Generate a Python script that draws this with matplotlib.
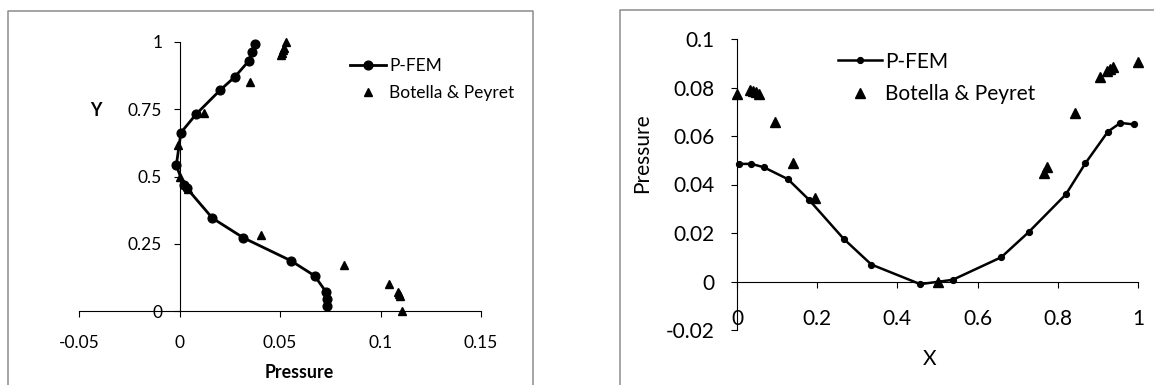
import matplotlib.pyplot as plt
from matplotlib.lines import Line2D

plt.rcParams['font.family'] = ['Lato', 'DejaVu Sans']

# vertical centreline: pressure against Y
pfem_left_p = [0.0375, 0.0360, 0.0344, 0.0275, 0.0202, 0.0083, 0.0007, -0.0016, 0.0021, 0.0037,
               0.0164, 0.0318, 0.0554, 0.0672, 0.0729, 0.0732, 0.0735]
pfem_left_y = [0.991, 0.962, 0.929, 0.870, 0.821, 0.732, 0.663, 0.541, 0.468, 0.456,
               0.345, 0.272, 0.187, 0.131, 0.071, 0.043, 0.017]
bp_left_y = [1.0, 0.9766, 0.9688, 0.9609, 0.9531, 0.8516, 0.7344, 0.6172, 0.5, 0.4531,
             0.2813, 0.1719, 0.1016, 0.0703, 0.0625, 0.0547, 0.0]
bp_left_p = [0.0530, 0.0520, 0.0515, 0.0509, 0.0503, 0.0349, 0.0121, -0.0008, 0.0, 0.0044,
             0.0404, 0.0819, 0.1042, 0.1086, 0.1092, 0.1097, 0.1106]

# horizontal centreline: pressure against X
pfem_right_x = [0.005, 0.036, 0.067, 0.127, 0.179, 0.266, 0.335, 0.457, 0.538, 0.659,
                0.727, 0.820, 0.869, 0.925, 0.956, 0.989]
pfem_right_p = [0.0485, 0.0485, 0.0471, 0.0422, 0.0338, 0.0176, 0.0070, -0.0011, 0.0007, 0.0100,
                0.0203, 0.0359, 0.0488, 0.0618, 0.0654, 0.0648]
bp_right_x = [0.0, 0.0312, 0.0391, 0.0469, 0.0547, 0.0937, 0.1406, 0.1953, 0.5, 0.7656,
              0.7734, 0.8437, 0.9062, 0.9219, 0.9297, 0.9375, 1.0]
bp_right_p = [0.0775, 0.0788, 0.0787, 0.0781, 0.0772, 0.0658, 0.0490, 0.0346, 0.0, 0.0448,
              0.0473, 0.0695, 0.0844, 0.0867, 0.0877, 0.0884, 0.0905]

left_xticks = [-0.05, 0, 0.05, 0.1, 0.15]
left_xlabels = ['-0.05', '0', '0.05', '0.1', '0.15']
left_yticks = [0, 0.25, 0.5, 0.75, 1]
left_ylabels = ['0', '0.25', '0.5', '0.75', '1']
right_xticks = [0, 0.2, 0.4, 0.6, 0.8, 1]
right_xlabels = ['0', '0.2', '0.4', '0.6', '0.8', '1']
right_yticks = [-0.02, 0, 0.02, 0.04, 0.06, 0.08, 0.1]
right_ylabels = ['-0.02', '0', '0.02', '0.04', '0.06', '0.08', '0.1']

W, H = 1154, 385
fig = plt.figure(figsize=(W / 100, H / 100), dpi=100)

def fx(px):
    return px / W

def fy(py):
    return 1 - py / H

# chart frames (bottom / right edges fall outside the picture)
frame = dict(color='#8c8c8c', lw=1.1, transform=fig.transFigure)
fig.add_artist(Line2D([fx(8), fx(8), fx(533), fx(533)], [-0.1, fy(11), fy(11), -0.1], **frame))
fig.add_artist(Line2D([fx(620), fx(620), 1.1], [-0.1, fy(10), fy(10)], **frame))

# ---- left chart ----
ax1 = fig.add_axes([fx(79), fy(311), (481 - 79) / W, (311 - 42) / H])
ax1.plot(pfem_left_p, pfem_left_y, '-o', color='black', lw=2.0, ms=6.3, label='P-FEM', clip_on=False)
ax1.plot(bp_left_p, bp_left_y, '^', color='black', ms=6.3, label='Botella & Peyret', clip_on=False)
ax1.set_xlim(-0.05, 0.15)
ax1.set_ylim(0, 1)
ax1.spines['left'].set_position(('data', 0))
ax1.spines['top'].set_visible(False)
ax1.spines['right'].set_visible(False)
for s in ('left', 'bottom'):
    ax1.spines[s].set_linewidth(0.8)
ax1.set_xticks(left_xticks, left_xlabels)
ax1.set_yticks(left_yticks, left_ylabels)
ax1.tick_params(axis='x', length=4, width=0.8, pad=13.5, labelsize=12.5)
ax1.tick_params(axis='y', length=4, width=0.8, pad=8.5, labelsize=12.5)
ax1.patch.set_visible(False)
ax1.legend(loc='center left', bbox_to_anchor=(fx(350), fy(79.5)), bbox_transform=fig.transFigure,
           frameon=False, fontsize=12.5, handlelength=2.1, handletextpad=0.15, borderpad=0,
           borderaxespad=0, labelspacing=0.62, numpoints=1)
fig.text(fx(299), fy(373), 'Pressure', ha='center', va='center', fontsize=12.8, fontweight='bold')
fig.text(fx(96), fy(110), 'Y', ha='center', va='center', fontsize=12.8, fontweight='bold')

# ---- right chart ----
ax2 = fig.add_axes([fx(737), fy(330), (1138 - 737) / W, (330 - 39) / H])
ax2.plot(pfem_right_x, pfem_right_p, '-o', color='black', lw=1.8, ms=4.2, label='P-FEM', clip_on=False)
ax2.plot(bp_right_x, bp_right_p, '^', color='black', ms=6.5, label='Botella & Peyret', clip_on=False)
ax2.set_xlim(0, 1)
ax2.set_ylim(-0.02, 0.1)
ax2.spines['bottom'].set_position(('data', 0))
ax2.spines['top'].set_visible(False)
ax2.spines['right'].set_visible(False)
for s in ('left', 'bottom'):
    ax2.spines[s].set_linewidth(0.8)
ax2.set_xticks(right_xticks, right_xlabels)
ax2.set_yticks(right_yticks, right_ylabels)
ax2.tick_params(axis='x', length=4, width=0.8, pad=16, labelsize=15)
ax2.tick_params(axis='y', length=4, width=0.8, pad=12, labelsize=15)
ax2.patch.set_visible(False)
ax2.legend(loc='center left', bbox_to_anchor=(fx(838), fy(78)), bbox_transform=fig.transFigure,
           frameon=False, fontsize=15, handlelength=2.1, handletextpad=0.15, borderpad=0,
           borderaxespad=0, labelspacing=0.62, numpoints=1)
fig.text(fx(930), fy(359), 'X', ha='center', va='center', fontsize=15)
fig.text(fx(642), fy(153), 'Pressure', ha='center', va='center', rotation=90, fontsize=15)

fig.savefig('out.png', dpi=100)
